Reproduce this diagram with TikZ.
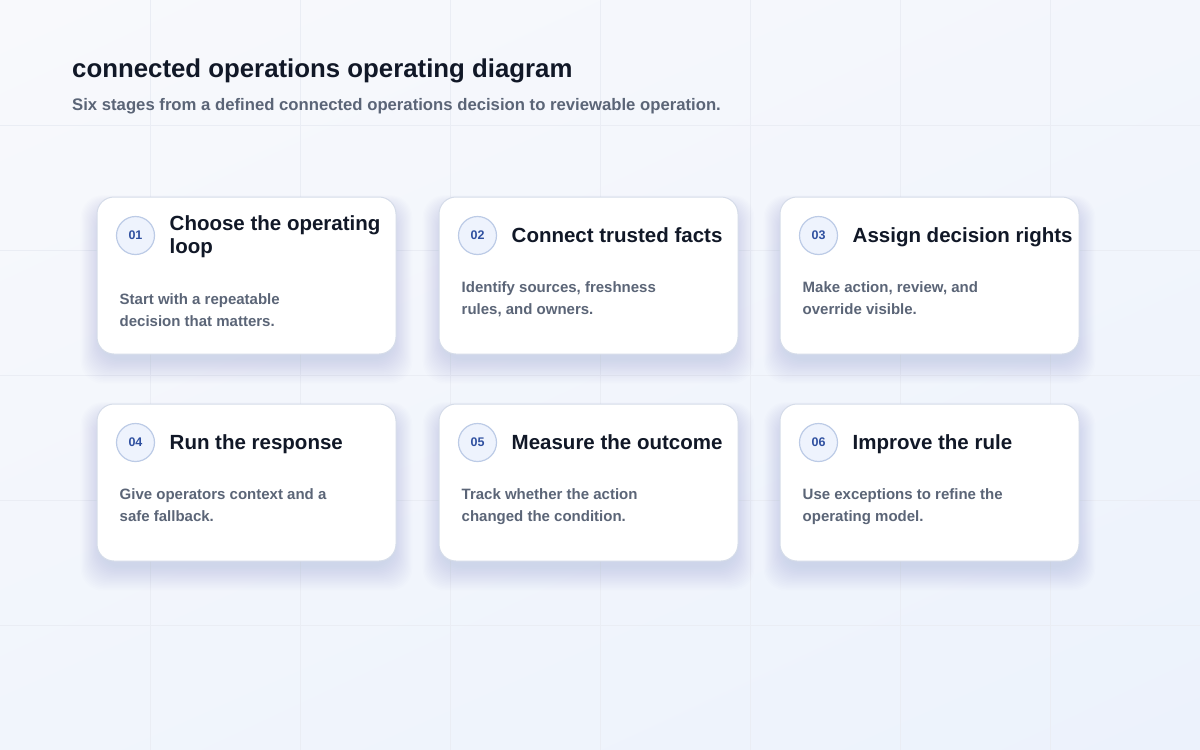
\documentclass[tikz,border=0pt]{standalone}
\usepackage{fontspec}
\setmainfont{Liberation Sans}
\usetikzlibrary{calc,shadings}
\pgfdeclarelayer{bglayer}
\pgfdeclarelayer{shadowlayer}
\pgfsetlayers{bglayer,shadowlayer,main}
\definecolor{bgA}{HTML}{F8F9FC}
\definecolor{bgB}{HTML}{F3F6FC}
\definecolor{bgC}{HTML}{F1F5FC}
\definecolor{bgD}{HTML}{ECF2FC}
\definecolor{gridcol}{HTML}{EAEDF4}
\definecolor{cardborder}{HTML}{D5DCE9}
\definecolor{titlecol}{HTML}{111827}
\definecolor{bodycol}{HTML}{5B6577}
\definecolor{badgefill}{HTML}{EEF3FD}
\definecolor{badgeborder}{HTML}{BCCBE6}
\definecolor{badgetext}{HTML}{2F50A0}
\definecolor{shadowcol}{HTML}{515C80}
\newcommand{\twolines}[3]{\parbox[t]{240pt}{\raggedright\baselineskip=#1 #2\\#3}}
\newcommand{\cardshadow}[1]{%
  \begin{pgfonlayer}{shadowlayer}
  \foreach \k in {1,...,18}{%
    \pgfmathsetmacro\ex{1.1*\k-4}%
    \pgfmathsetmacro\et{13-0.8*\k}%
    \pgfmathsetmacro\eb{4+1.4*\k}%
    \fill[shadowcol, opacity=0.0085, rounded corners=22pt]
      ($(#1.north west)+(-\ex,\et)$) rectangle ($(#1.south east)+(\ex,\eb)$);
  }
  \end{pgfonlayer}}
\tikzset{
  gridline/.style={draw=gridcol, line width=1pt},
  card/.style={draw=cardborder, fill=white, line width=1pt, rounded corners=17pt,
    minimum width=299pt, minimum height=157pt, inner sep=0pt},
  badge/.style={circle, draw=badgeborder, fill=badgefill, line width=1.2pt,
    minimum size=38pt, inner sep=0pt, text=badgetext, font=\fontsize{12.5}{14}\selectfont\bfseries},
  cardtitle/.style={anchor=base west, inner sep=0pt, text=titlecol,
    font=\fontsize{20.5}{23}\selectfont\bfseries},
  cardbody/.style={anchor=base west, inner sep=0pt, text=bodycol,
    font=\fontsize{15}{21.5}\selectfont\bfseries},
  headtitle/.style={anchor=base west, inner sep=0pt, text=titlecol,
    font=\fontsize{25.8}{30}\selectfont\bfseries},
  headsub/.style={anchor=base west, inner sep=0pt, text=bodycol,
    font=\fontsize{16.7}{20}\selectfont\bfseries}
}
\begin{document}
\begin{tikzpicture}[x=1pt,y=-1pt]
\useasboundingbox (0,0) rectangle (1200,750);
\begin{pgfonlayer}{bglayer}
\shade[upper left=bgA, upper right=bgB, lower left=bgC, lower right=bgD] (0,0) rectangle (1200,750);
\foreach \gx in {150,300,...,1050} \draw[gridline] (\gx,0) -- (\gx,750);
\foreach \gy in {125,250,...,625} \draw[gridline] (0,\gy) -- (1200,\gy);
\end{pgfonlayer}

\node[headtitle] (title) at (72,77) {connected operations operating diagram};
\node[headsub] (subtitle) at (72,110.3) {Six stages from a defined connected operations decision to reviewable operation.};

% row 1
\node[card] (c1) at (246.5,275.5) {};
\node[card] (c2) at (588.5,275.5) {};
\node[card] (c3) at (929.5,275.5) {};
% row 2
\node[card] (c4) at (246.5,482.5) {};
\node[card] (c5) at (588.5,482.5) {};
\node[card] (c6) at (929.5,482.5) {};
\cardshadow{c1}\cardshadow{c2}\cardshadow{c3}
\cardshadow{c4}\cardshadow{c5}\cardshadow{c6}

% card 1
\node[badge] (b1) at ($(c1.north west)+(39,39)$) {01};
\node[cardtitle] (t1) at ($(c1.north west)+(73,33.7)$) {\twolines{23pt}{Choose the operating}{loop}};
\node[cardbody] (d1) at ($(c1.north west)+(23,108.3)$) {\twolines{21.5pt}{Start with a repeatable}{decision that matters.}};
% card 2
\node[badge] (b2) at ($(c2.north west)+(39,39)$) {02};
\node[cardtitle] (t2) at ($(c2.north west)+(73,45.7)$) {Connect trusted facts};
\node[cardbody] (d2) at ($(c2.north west)+(23,96.3)$) {\twolines{21.5pt}{Identify sources, freshness}{rules, and owners.}};
% card 3
\node[badge] (b3) at ($(c3.north west)+(39,39)$) {03};
\node[cardtitle] (t3) at ($(c3.north west)+(73,45.7)$) {Assign decision rights};
\node[cardbody] (d3) at ($(c3.north west)+(23,96.3)$) {\twolines{21.5pt}{Make action, review, and}{override visible.}};
% card 4
\node[badge] (b4) at ($(c4.north west)+(39,39)$) {04};
\node[cardtitle] (t4) at ($(c4.north west)+(73,45.7)$) {Run the response};
\node[cardbody] (d4) at ($(c4.north west)+(23,96.3)$) {\twolines{21.5pt}{Give operators context and a}{safe fallback.}};
% card 5
\node[badge] (b5) at ($(c5.north west)+(39,39)$) {05};
\node[cardtitle] (t5) at ($(c5.north west)+(73,45.7)$) {Measure the outcome};
\node[cardbody] (d5) at ($(c5.north west)+(23,96.3)$) {\twolines{21.5pt}{Track whether the action}{changed the condition.}};
% card 6
\node[badge] (b6) at ($(c6.north west)+(39,39)$) {06};
\node[cardtitle] (t6) at ($(c6.north west)+(73,45.7)$) {Improve the rule};
\node[cardbody] (d6) at ($(c6.north west)+(23,96.3)$) {\twolines{21.5pt}{Use exceptions to refine the}{operating model.}};
\end{tikzpicture}
\end{document}
